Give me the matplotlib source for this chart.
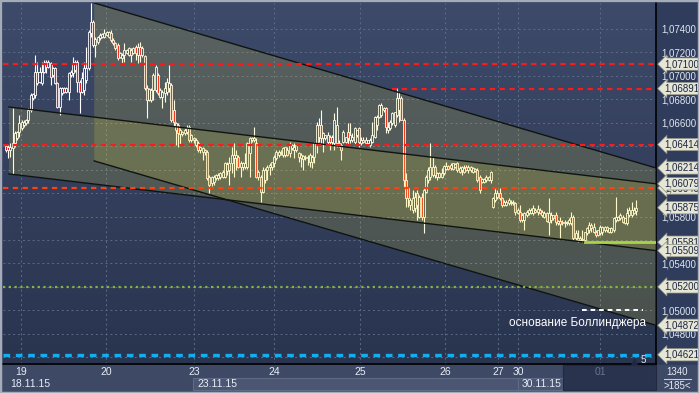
import matplotlib
matplotlib.use("Agg")
import matplotlib.pyplot as plt
import matplotlib.transforms as mtransforms
from matplotlib.colors import LinearSegmentedColormap
from matplotlib.patches import Rectangle
from matplotlib.lines import Line2D
import numpy as np

plt.rcParams["font.family"] = ["Liberation Sans", "DejaVu Sans"]

# EUR/USD bars (oldest first)
opens = [
    1.06402, 1.06393, 1.06367, 1.06385, 1.06427, 1.06470, 1.06521, 1.06555, 1.06581, 1.06598,
    1.06623, 1.06709, 1.06811, 1.06837, 1.07033, 1.06948, 1.06939, 1.07033, 1.07118, 1.07075,
    1.07110, 1.07007, 1.07067, 1.06939, 1.06734, 1.06854, 1.06896, 1.06862, 1.06862, 1.07007,
    1.07024, 1.07050, 1.07118, 1.06948, 1.06862, 1.06879, 1.06965, 1.07067, 1.07366, 1.07459,
    1.07263, 1.07289, 1.07323, 1.07331, 1.07331, 1.07348, 1.07331, 1.07366, 1.07306, 1.07280,
    1.07263, 1.07161, 1.07152, 1.07178, 1.07195, 1.07178, 1.07220, 1.07195, 1.07246, 1.07178,
    1.07246, 1.07178, 1.07169, 1.06896, 1.06794, 1.06794, 1.06879, 1.06879, 1.07007, 1.06820,
    1.06820, 1.06854, 1.06862, 1.06896, 1.06922, 1.06709, 1.06538, 1.06581, 1.06504, 1.06504,
    1.06513, 1.06521, 1.06564, 1.06453, 1.06453, 1.06410, 1.06427, 1.06367, 1.06350, 1.06367,
    1.06350, 1.06137, 1.06086, 1.06095, 1.06129, 1.06129, 1.06137, 1.06137, 1.06137, 1.06188,
    1.06197, 1.06257, 1.06299, 1.06299, 1.06308, 1.06222, 1.06222, 1.06222, 1.06222, 1.06342,
    1.06453, 1.06453, 1.06427, 1.06137, 1.06137, 1.06009, 1.06112, 1.06197, 1.06222, 1.06222,
    1.06257, 1.06299, 1.06325, 1.06342, 1.06325, 1.06325, 1.06367, 1.06342, 1.06385, 1.06367,
    1.06367, 1.06308, 1.06325, 1.06291, 1.06299, 1.06299, 1.06265, 1.06265, 1.06308, 1.06427,
    1.06581, 1.06581, 1.06470, 1.06470, 1.06436, 1.06478, 1.06436, 1.06427, 1.06427, 1.06427,
    1.06410, 1.06436, 1.06436, 1.06521, 1.06453, 1.06453, 1.06436, 1.06495, 1.06555, 1.06427,
    1.06453, 1.06427, 1.06427, 1.06410, 1.06436, 1.06478, 1.06581, 1.06649, 1.06666, 1.06709,
    1.06726, 1.06538, 1.06555, 1.06598, 1.06581, 1.06666, 1.06709, 1.06811, 1.06623, 1.06112,
    1.06043, 1.05898, 1.05856, 1.05873, 1.06001, 1.05796, 1.05967, 1.05796, 1.06009, 1.06112,
    1.06137, 1.06154, 1.06222, 1.06137, 1.06137, 1.06137, 1.06171, 1.06205, 1.06231, 1.06214,
    1.06205, 1.06222, 1.06257, 1.06180, 1.06197, 1.06180, 1.06222, 1.06197, 1.06197, 1.06180,
    1.06205, 1.06197, 1.06137, 1.06095, 1.06095, 1.06112, 1.06112, 1.06112, 1.05881, 1.05941,
    1.05967, 1.06001, 1.05958, 1.05898, 1.05898, 1.05915, 1.05915, 1.05915, 1.05915, 1.05830,
    1.05839, 1.05770, 1.05770, 1.05813, 1.05830, 1.05830, 1.05830, 1.05839, 1.05839, 1.05856,
    1.05813, 1.05796, 1.05830, 1.05753, 1.05770, 1.05787, 1.05813, 1.05745, 1.05762, 1.05745,
    1.05745, 1.05745, 1.05745, 1.05745, 1.05796, 1.05617, 1.05600, 1.05617, 1.05600, 1.05600,
    1.05660, 1.05685, 1.05728, 1.05668, 1.05668, 1.05642, 1.05660, 1.05668, 1.05685, 1.05711,
    1.05668, 1.05668, 1.05685, 1.05770, 1.05770, 1.05787, 1.05796, 1.05745, 1.05745, 1.05813,
    1.05813, 1.05830, 1.05847,
]
highs = [
    1.06419, 1.06410, 1.06427, 1.06726, 1.06530, 1.06530, 1.06666, 1.06623, 1.06623, 1.06632,
    1.06726, 1.06854, 1.06854, 1.07178, 1.07118, 1.07075, 1.07118, 1.07135, 1.07135, 1.07135,
    1.07118, 1.07075, 1.07075, 1.06948, 1.06905, 1.06905, 1.06905, 1.06905, 1.07033, 1.07050,
    1.07161, 1.07135, 1.07135, 1.06965, 1.07033, 1.07118, 1.07246, 1.07391, 1.07621, 1.07476,
    1.07331, 1.07340, 1.07366, 1.07366, 1.07400, 1.07383, 1.07383, 1.07391, 1.07323, 1.07289,
    1.07280, 1.07203, 1.07195, 1.07280, 1.07229, 1.07246, 1.07238, 1.07246, 1.07263, 1.07280,
    1.07289, 1.07255, 1.07178, 1.06922, 1.06896, 1.06896, 1.07024, 1.07093, 1.07024, 1.06896,
    1.06879, 1.06948, 1.06982, 1.07093, 1.06939, 1.06794, 1.06606, 1.06598, 1.06555, 1.06530,
    1.06555, 1.06581, 1.06581, 1.06504, 1.06478, 1.06470, 1.06444, 1.06402, 1.06393, 1.06376,
    1.06367, 1.06154, 1.06146, 1.06154, 1.06163, 1.06171, 1.06180, 1.06197, 1.06265, 1.06265,
    1.06308, 1.06393, 1.06427, 1.06367, 1.06325, 1.06274, 1.06265, 1.06342, 1.06436, 1.06478,
    1.06478, 1.06564, 1.06470, 1.06197, 1.06154, 1.06222, 1.06214, 1.06240, 1.06257, 1.06265,
    1.06325, 1.06367, 1.06367, 1.06367, 1.06393, 1.06393, 1.06393, 1.06436, 1.06419, 1.06427,
    1.06410, 1.06350, 1.06342, 1.06325, 1.06325, 1.06325, 1.06342, 1.06325, 1.06436, 1.06606,
    1.06640, 1.06709, 1.06521, 1.06495, 1.06521, 1.06495, 1.06495, 1.06683, 1.06734, 1.06453,
    1.06427, 1.06538, 1.06478, 1.06598, 1.06598, 1.06513, 1.06564, 1.06538, 1.06564, 1.06478,
    1.06478, 1.06478, 1.06453, 1.06470, 1.06606, 1.06658, 1.06666, 1.06760, 1.06768, 1.06734,
    1.06734, 1.06606, 1.06623, 1.06692, 1.06692, 1.06896, 1.06862, 1.06828, 1.06640, 1.06171,
    1.06052, 1.05958, 1.06026, 1.06009, 1.06026, 1.05984, 1.06001, 1.06043, 1.06154, 1.06222,
    1.06427, 1.06308, 1.06240, 1.06180, 1.06180, 1.06214, 1.06240, 1.06265, 1.06240, 1.06257,
    1.06257, 1.06257, 1.06265, 1.06231, 1.06231, 1.06240, 1.06240, 1.06240, 1.06231, 1.06222,
    1.06214, 1.06214, 1.06154, 1.06129, 1.06129, 1.06154, 1.06146, 1.06188, 1.05967, 1.06043,
    1.06026, 1.06043, 1.05967, 1.05941, 1.05941, 1.05958, 1.05941, 1.05941, 1.05924, 1.05873,
    1.05898, 1.05830, 1.05839, 1.05856, 1.05873, 1.05873, 1.05898, 1.05873, 1.05898, 1.05873,
    1.05856, 1.05847, 1.05839, 1.05958, 1.05839, 1.05813, 1.05839, 1.05770, 1.05796, 1.05770,
    1.05770, 1.05762, 1.05787, 1.05839, 1.05813, 1.05685, 1.05685, 1.05634, 1.05685, 1.05668,
    1.05711, 1.05753, 1.05745, 1.05745, 1.05685, 1.05685, 1.05728, 1.05719, 1.05719, 1.05719,
    1.05702, 1.05711, 1.05796, 1.05967, 1.05805, 1.05830, 1.05813, 1.05787, 1.05873, 1.05881,
    1.05924, 1.05881, 1.05941,
]
lows = [
    1.06350, 1.06299, 1.06308, 1.06163, 1.06393, 1.06453, 1.06478, 1.06538, 1.06564, 1.06581,
    1.06598, 1.06692, 1.06794, 1.06811, 1.06922, 1.06939, 1.06922, 1.07024, 1.07024, 1.07067,
    1.06922, 1.06990, 1.06930, 1.06726, 1.06666, 1.06837, 1.06854, 1.06854, 1.06794, 1.06990,
    1.06990, 1.07033, 1.06862, 1.06683, 1.06854, 1.06837, 1.06939, 1.07050, 1.07331, 1.07246,
    1.07161, 1.07272, 1.07306, 1.07323, 1.07323, 1.07340, 1.07323, 1.07289, 1.07263, 1.07220,
    1.07135, 1.07152, 1.07110, 1.07118, 1.07186, 1.07169, 1.07118, 1.07186, 1.07135, 1.07110,
    1.07118, 1.07161, 1.06879, 1.06640, 1.06785, 1.06777, 1.06794, 1.06862, 1.06837, 1.06811,
    1.06726, 1.06777, 1.06837, 1.06862, 1.06606, 1.06572, 1.06410, 1.06393, 1.06410, 1.06487,
    1.06495, 1.06504, 1.06436, 1.06436, 1.06427, 1.06393, 1.06350, 1.06342, 1.06282, 1.06325,
    1.06112, 1.06001, 1.06060, 1.06069, 1.06112, 1.06112, 1.06120, 1.06129, 1.06129, 1.06154,
    1.06069, 1.06171, 1.06137, 1.06197, 1.06214, 1.06137, 1.06197, 1.06205, 1.06205, 1.06137,
    1.06436, 1.06436, 1.06129, 1.06112, 1.05924, 1.06001, 1.06086, 1.06112, 1.06154, 1.06197,
    1.06222, 1.06282, 1.06308, 1.06325, 1.06308, 1.06308, 1.06316, 1.06308, 1.06367, 1.06299,
    1.06350, 1.06265, 1.06222, 1.06197, 1.06282, 1.06240, 1.06222, 1.06214, 1.06257, 1.06342,
    1.06436, 1.06427, 1.06350, 1.06453, 1.06410, 1.06367, 1.06410, 1.06367, 1.06393, 1.06393,
    1.06282, 1.06427, 1.06427, 1.06410, 1.06427, 1.06436, 1.06410, 1.06478, 1.06393, 1.06410,
    1.06427, 1.06410, 1.06419, 1.06393, 1.06427, 1.06470, 1.06538, 1.06640, 1.06649, 1.06692,
    1.06513, 1.06513, 1.06538, 1.06581, 1.06564, 1.06649, 1.06606, 1.06623, 1.06052, 1.05881,
    1.05881, 1.05856, 1.05830, 1.05839, 1.05770, 1.05787, 1.05770, 1.05660, 1.06001, 1.06086,
    1.06112, 1.06137, 1.06129, 1.06112, 1.06129, 1.06129, 1.06154, 1.06197, 1.06197, 1.06197,
    1.06197, 1.06214, 1.06180, 1.06171, 1.06154, 1.06171, 1.06188, 1.06171, 1.06180, 1.06171,
    1.06180, 1.06095, 1.06001, 1.06086, 1.06086, 1.06095, 1.06103, 1.06086, 1.05873, 1.05924,
    1.05950, 1.05941, 1.05881, 1.05890, 1.05890, 1.05898, 1.05898, 1.05898, 1.05813, 1.05822,
    1.05753, 1.05753, 1.05685, 1.05796, 1.05813, 1.05822, 1.05813, 1.05830, 1.05813, 1.05822,
    1.05796, 1.05787, 1.05753, 1.05642, 1.05745, 1.05770, 1.05728, 1.05728, 1.05617, 1.05728,
    1.05711, 1.05728, 1.05728, 1.05728, 1.05600, 1.05600, 1.05583, 1.05591, 1.05583, 1.05591,
    1.05642, 1.05660, 1.05668, 1.05660, 1.05625, 1.05634, 1.05642, 1.05642, 1.05668, 1.05668,
    1.05660, 1.05660, 1.05668, 1.05753, 1.05762, 1.05770, 1.05745, 1.05736, 1.05728, 1.05796,
    1.05796, 1.05822, 1.05813,
]
closes = [
    1.06367, 1.06367, 1.06393, 1.06427, 1.06513, 1.06521, 1.06598, 1.06606, 1.06606, 1.06623,
    1.06709, 1.06837, 1.06845, 1.07033, 1.06939, 1.07033, 1.07033, 1.07110, 1.07075, 1.07118,
    1.06990, 1.07067, 1.06939, 1.06734, 1.06896, 1.06896, 1.06862, 1.06896, 1.07024, 1.07033,
    1.07110, 1.07118, 1.06948, 1.06862, 1.06982, 1.07067, 1.07067, 1.07374, 1.07459, 1.07263,
    1.07314, 1.07331, 1.07348, 1.07357, 1.07366, 1.07374, 1.07374, 1.07306, 1.07280, 1.07238,
    1.07152, 1.07195, 1.07178, 1.07220, 1.07220, 1.07238, 1.07178, 1.07238, 1.07195, 1.07246,
    1.07178, 1.07238, 1.06896, 1.06794, 1.06888, 1.06879, 1.07007, 1.07075, 1.06854, 1.06879,
    1.06862, 1.06896, 1.06948, 1.06939, 1.06623, 1.06606, 1.06598, 1.06513, 1.06538, 1.06521,
    1.06538, 1.06555, 1.06453, 1.06495, 1.06470, 1.06453, 1.06367, 1.06393, 1.06385, 1.06350,
    1.06129, 1.06069, 1.06137, 1.06137, 1.06154, 1.06154, 1.06171, 1.06180, 1.06257, 1.06248,
    1.06257, 1.06325, 1.06325, 1.06325, 1.06222, 1.06257, 1.06257, 1.06257, 1.06427, 1.06470,
    1.06470, 1.06470, 1.06137, 1.06180, 1.06009, 1.06197, 1.06197, 1.06222, 1.06240, 1.06265,
    1.06308, 1.06350, 1.06350, 1.06350, 1.06385, 1.06393, 1.06325, 1.06410, 1.06410, 1.06393,
    1.06410, 1.06342, 1.06299, 1.06316, 1.06308, 1.06308, 1.06325, 1.06308, 1.06427, 1.06581,
    1.06478, 1.06470, 1.06513, 1.06495, 1.06495, 1.06436, 1.06478, 1.06623, 1.06581, 1.06410,
    1.06367, 1.06521, 1.06478, 1.06470, 1.06495, 1.06478, 1.06555, 1.06538, 1.06436, 1.06453,
    1.06436, 1.06453, 1.06453, 1.06453, 1.06495, 1.06649, 1.06649, 1.06751, 1.06751, 1.06726,
    1.06564, 1.06564, 1.06606, 1.06683, 1.06692, 1.06811, 1.06811, 1.06623, 1.06112, 1.05958,
    1.05958, 1.05941, 1.05958, 1.05967, 1.05898, 1.05967, 1.05796, 1.06026, 1.06137, 1.06197,
    1.06222, 1.06222, 1.06154, 1.06171, 1.06171, 1.06171, 1.06231, 1.06231, 1.06205, 1.06240,
    1.06257, 1.06248, 1.06197, 1.06214, 1.06222, 1.06214, 1.06197, 1.06222, 1.06222, 1.06214,
    1.06188, 1.06112, 1.06026, 1.06120, 1.06120, 1.06137, 1.06137, 1.06180, 1.05958, 1.06001,
    1.06001, 1.05958, 1.05898, 1.05924, 1.05924, 1.05941, 1.05924, 1.05924, 1.05839, 1.05856,
    1.05770, 1.05813, 1.05830, 1.05839, 1.05856, 1.05856, 1.05873, 1.05856, 1.05864, 1.05830,
    1.05839, 1.05830, 1.05762, 1.05830, 1.05813, 1.05813, 1.05753, 1.05762, 1.05736, 1.05753,
    1.05753, 1.05753, 1.05770, 1.05796, 1.05617, 1.05660, 1.05617, 1.05600, 1.05608, 1.05668,
    1.05702, 1.05728, 1.05702, 1.05711, 1.05642, 1.05685, 1.05711, 1.05711, 1.05711, 1.05685,
    1.05702, 1.05702, 1.05787, 1.05796, 1.05796, 1.05813, 1.05753, 1.05787, 1.05830, 1.05856,
    1.05856, 1.05856, 1.05873,
]

# day separators (bar positions) and labels
day_ticks = [6.7, 44.8, 84.2, 120.0, 158.5, 196.5, 220.2, 229.2, 265.9]
day_labels = ["19", "20", "23", "24", "25", "26", "27", "30", "01"]
date_ticks = [1.8, 85.5, 231.0]
date_labels = ["18.11.15", "23.11.15", "30.11.15"]

price_ticks = [1.046, 1.048, 1.050, 1.052, 1.054, 1.056, 1.058, 1.060,
               1.062, 1.064, 1.066, 1.068, 1.070, 1.072, 1.074]
# labels that the price tags do not cover
shown_ticks = [1.048, 1.050, 1.054, 1.058, 1.066, 1.068, 1.070, 1.072, 1.074]

# regression channels: start bar, (top at start, top at right edge), (bottom ...)
chan_a_start = 1.34
chan_a_top = (1.06734, 1.06079)
chan_a_bot = (1.06163, 1.05509)
chan_b_start = 39.5
chan_b_top = (1.07621, 1.06214)
chan_b_bot = (1.06274, 1.04872)

# horizontal levels
red_levels = [1.07100, 1.06414]
red_level_late = 1.06891
red_level_late_start = 173.0
orange_level = 1.06043
lime_level = 1.05581
lime_start = 259.0
green_level = 1.05200
blue_level = 1.04621
boll_level = 1.05000
boll_span = (257.8, 285.1)

tag_values = [1.07100, 1.06891, 1.06414, 1.06214, 1.06079, 1.05875,
              1.05581, 1.05509, 1.05200, 1.04872, 1.04621]

W, H = 699, 393
fig = plt.figure(figsize=(W / 100, H / 100), dpi=100, facecolor="#2f3c5b")


def fx(px):
    return px / W


def fy(py):
    return 1 - py / H


ax = fig.add_axes([fx(3), fy(364), (656 - 3) / W, (364 - 3) / H])
x0, x1 = -1.34, 290.95
y_lo, y_hi = 1.04542, 1.07621
ax.set_xlim(x0, x1)
ax.set_ylim(y_lo, y_hi)

# background gradient
bg = LinearSegmentedColormap.from_list("bg", ["#3d4a69", "#29344f"])
ax.imshow(np.linspace(0, 1, 256).reshape(-1, 1), cmap=bg, aspect="auto",
          extent=[x0, x1, y_lo, y_hi], zorder=0)

# grid
ax.set_yticks(price_ticks)
ax.set_xticks(day_ticks)
ax.grid(True, color="#5d6c86", lw=0.7, ls=(0, (2, 3)), zorder=1)
ax.set_axisbelow(True)

# candles
o = np.array(opens)
hi = np.array(highs)
lo = np.array(lows)
c = np.array(closes)
idx = np.arange(len(o))
top = np.maximum(o, c)
bot = np.minimum(o, c)
ax.vlines(idx, top, hi, color="white", lw=0.8, zorder=2)
ax.vlines(idx, lo, bot, color="white", lw=0.8, zorder=2)
faces = ["none" if cc >= oo else "#f01818" for oo, cc in zip(o, c)]
ax.bar(idx, np.maximum(top - bot, 0.00001), bottom=bot, width=0.9,
       color=faces, edgecolor="white", linewidth=0.6, zorder=3)

# channels (drawn over the candles, semi transparent)
for start, tp, bt in [(chan_a_start, chan_a_top, chan_a_bot),
                      (chan_b_start, chan_b_top, chan_b_bot)]:
    ax.fill([start, x1, x1, start], [tp[0], tp[1], bt[1], bt[0]],
            color="#fdf038", alpha=0.15, lw=0, zorder=4)
    ax.plot([start, x1], list(tp), color="#101410", lw=1.0, zorder=5)
    ax.plot([start, x1], list(bt), color="#101410", lw=1.0, zorder=5)

# levels
for v in red_levels:
    ax.plot([x0, x1], [v, v], color="#ff1a1a", lw=1.6, ls=(0, (2.4, 2.0)), zorder=6)
ax.plot([red_level_late_start, x1], [red_level_late] * 2, color="#ff1a1a",
        lw=1.6, ls=(0, (2.4, 2.0)), zorder=6)
ax.plot([x0, x1], [orange_level] * 2, color="#ff4010", lw=1.6,
        ls=(0, (2.4, 2.0)), zorder=6)
ax.plot([lime_start, x1], [lime_level] * 2, color="#a6d646", lw=2.0, zorder=6)
ax.plot([x0, x1], [green_level] * 2, color="#86b440", lw=1.6,
        ls=(0, (1.0, 1.6)), zorder=6)
ax.plot([x0, x1], [blue_level] * 2, color="#14aef0", lw=2.4,
        ls=(0, (2.0, 1.7)), zorder=6)
ax.plot(list(boll_span), [boll_level] * 2, color="white", lw=1.4,
        ls=(0, (2.4, 2.0)), zorder=6)
ax.text(255.6, 1.04892, "основание Боллинджера", color="white", fontsize=8.5,
        ha="center", va="center", zorder=7)
ax.text(285.1, 1.04574, "5", color="#e0e6f0", fontsize=7, ha="center",
        va="center", zorder=7)
ax.plot([281.0], [1.04563], marker="^", ms=4, color="#1f2842", zorder=7)

# axes frame / ticks
for side in ["top", "left"]:
    ax.spines[side].set_visible(False)
for side in ["bottom", "right"]:
    ax.spines[side].set_color("black")
    ax.spines[side].set_linewidth(1.2)
ax.yaxis.tick_right()
ax.set_yticklabels([f"{v:.5f}".replace(".", ",") if v in shown_ticks else ""
                    for v in price_ticks])
ax.tick_params(axis="y", length=0, pad=4, labelsize=7, labelcolor="#dfe6f0")
ax.set_xticklabels(day_labels)
ax.tick_params(axis="x", length=0, pad=2.2, labelsize=7.5, labelcolor="#e8eef6")
ax.get_xticklabels()[-1].set_color("#66738f")

# bottom strip panels
fig.add_artist(Rectangle((0, 0), 1, fy(364.5), transform=fig.transFigure,
                         color="#3d4965", zorder=-5))
fig.add_artist(Rectangle((fx(193), fy(390)), fx(518 - 193), (390 - 378) / H,
                         transform=fig.transFigure, fc="#4a5672", ec="#5f6b86",
                         lw=0.8, zorder=-4))
fig.add_artist(Rectangle((fx(518), fy(390)), fx(563 - 518), (390 - 378) / H,
                         transform=fig.transFigure, fc="#4a5672", ec="#5f6b86",
                         lw=0.8, zorder=-4))
fig.add_artist(Rectangle((fx(563), fy(390)), fx(656 - 563), (390 - 365) / H,
                         transform=fig.transFigure, fc="#29334d", ec="#222a40",
                         lw=0.8, zorder=-4))

trans = mtransforms.blended_transform_factory(ax.transData, ax.transAxes)
for xpos, lab in zip(date_ticks, date_labels):
    ax.text(xpos, -(384 - 364) / 361, lab, transform=trans, fontsize=7.5,
            color="#e8eef6", ha="left", va="center", clip_on=False)

fig.text(fx(677.5), fy(372), "1340", fontsize=7, color="#e6ecf5",
         ha="center", va="center")
fig.add_artist(Line2D([fx(664), fx(691)], [fy(378.5)] * 2, color="#c9d0dc", lw=0.8))
fig.text(fx(677.5), fy(386), ">185<", fontsize=7, color="#e6ecf5",
         ha="center", va="center")

# price tags on the right (the orange level's tag sits mostly under 1,06079)
ytrans = mtransforms.blended_transform_factory(ax.transAxes, ax.transData)
tag_box = dict(boxstyle="larrow,pad=0.12", fc="#e6e6d6", ec="#8e8e7e", lw=0.5)
ax.text(1.0125, orange_level, f"{orange_level:.5f}".replace(".", ","),
        transform=ytrans, fontsize=7, color="#1b2640", ha="left", va="center",
        zorder=19, clip_on=False, bbox=tag_box)
for v in tag_values:
    ax.text(1.0125, v, f"{v:.5f}".replace(".", ","), transform=ytrans,
            fontsize=7, color="#1b2640", ha="left", va="center", zorder=20,
            clip_on=False, bbox=tag_box)

# outer border
fig.add_artist(Rectangle((0, 0), 1, 1, transform=fig.transFigure, fill=False,
                         ec="#a4abb9", lw=2.5))

fig.savefig("out.png", dpi=100, facecolor=fig.get_facecolor())
